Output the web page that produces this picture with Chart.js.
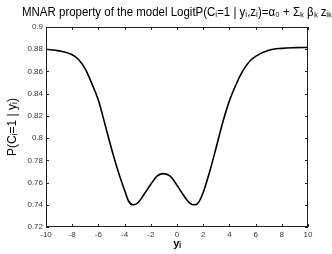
<!DOCTYPE html>
<html>
<head>
<meta charset="utf-8">
<script src="https://cdn.jsdelivr.net/npm/chart.js@4"></script>
<style>
  html, body { margin: 0; padding: 0; background: #fff; }
  #wrap { width: 332px; height: 254px; position: relative; }
</style>
</head>
<body>
<div id="wrap"><canvas id="chart"></canvas></div>
<script>
// values
const yValues = [-10, -9, -8, -7.5, -7, -6.5, -6, -5.5, -5, -4.5, -4, -3.7, -3.35, -3, -2.5, -2, -1.5, -1.03,
                 -0.5, 0, 0.5, 1, 1.3, 1.6, 2, 2.5, 3, 3.5, 4, 4.5, 5, 5.5, 6, 7, 8, 9, 10];
const probValues = [0.8800, 0.8785, 0.8750, 0.8705, 0.8620, 0.8490, 0.8340, 0.8125, 0.7905, 0.7705, 0.7530, 0.7434, 0.7400, 0.7416, 0.7497, 0.7585, 0.7660, 0.7680,
                    0.7655, 0.7575, 0.7485, 0.7413, 0.7400, 0.7414, 0.7510, 0.7700, 0.7920, 0.8145, 0.8335, 0.8480, 0.8600, 0.8685, 0.8735, 0.8790, 0.8808, 0.8814, 0.8816];
const xTicks = [-10, -8, -6, -4, -2, 0, 2, 4, 6, 8, 10];
const yTicks = [0.72, 0.74, 0.76, 0.78, 0.8, 0.82, 0.84, 0.86, 0.88, 0.9];

const FONT = "'Liberation Sans', Arial, Helvetica, sans-serif";

// MATLAB style frame: box on all sides, ticks pointing inwards
const boxTicks = {
    id: 'boxTicks',
    afterDatasetsDraw(chart) {
        const { ctx, chartArea: a, scales: { x, y } } = chart;
        ctx.save();
        ctx.strokeStyle = '#222';
        ctx.lineWidth = 1;
        ctx.beginPath();
        x.ticks.forEach(t => {
            const px = Math.round(x.getPixelForValue(t.value)) + 0.5;
            ctx.moveTo(px, a.bottom); ctx.lineTo(px, a.bottom - 3);
            ctx.moveTo(px, a.top); ctx.lineTo(px, a.top + 3);
        });
        y.ticks.forEach(t => {
            const py = Math.round(y.getPixelForValue(t.value)) + 0.5;
            ctx.moveTo(a.left, py); ctx.lineTo(a.left + 3, py);
            ctx.moveTo(a.right, py); ctx.lineTo(a.right - 3, py);
        });
        ctx.stroke();
        ctx.strokeRect(Math.round(a.left) + 0.5, Math.round(a.top) + 0.5,
                       Math.round(a.right - a.left) - 1, Math.round(a.bottom - a.top) - 1);
        ctx.restore();
    }
};

new Chart(document.getElementById('chart'), {
    type: 'scatter',
    data: {
        datasets: [{
            data: yValues.map((v, i) => ({ x: v, y: probValues[i] })),
            showLine: true,
            borderColor: '#000',
            borderWidth: 1.6,
            pointRadius: 0,
            cubicInterpolationMode: 'monotone'
        }]
    },
    options: {
        responsive: true,
        maintainAspectRatio: false,
        animation: false,
        // left padding shifts the title centre over the plot, like the original
        layout: { padding: { left: 22, right: 0 } },
        plugins: {
            legend: { display: false },
            tooltip: { enabled: false },
            title: {
                display: true,
                text: 'MNAR property of the model LogitP(Cᵢ=1 | yᵢ,zᵢ)=α₀ + Σₖ βₖ zᵢₖ',
                color: '#000',
                font: { family: FONT, size: 12, weight: 'normal' },
                padding: { top: 5, bottom: 7.6 }
            }
        },
        scales: {
            x: {
                type: 'linear',
                min: -10, max: 10,
                afterFit: s => { s.height = 27; },
                afterBuildTicks: s => { s.ticks = xTicks.map(v => ({ value: v })); },
                grid: { display: false, drawTicks: false },
                border: { display: false },
                ticks: { color: '#333', padding: 3, font: { family: FONT, size: 8 }, maxRotation: 0 },
                title: { display: true, text: 'yᵢ', color: '#000', padding: { top: 0, bottom: 3 },
                         font: { family: FONT, size: 11, weight: 'bold' } }
            },
            y: {
                min: 0.72, max: 0.9,
                afterFit: s => { s.width = 24; },
                afterBuildTicks: s => { s.ticks = yTicks.map(v => ({ value: v })); },
                grid: { display: false, drawTicks: false },
                border: { display: false },
                ticks: { color: '#333', padding: 3, font: { family: FONT, size: 8 },
                         callback: v => String(+v.toFixed(2)) },
                title: { display: true, text: 'P(Cᵢ=1 | yᵢ)', color: '#000', padding: { top: -16.2, bottom: 0 },
                         font: { family: FONT, size: 12 } }
            },
            right: {
                position: 'right',
                display: true,
                afterFit: s => { s.width = 24; },
                grid: { display: false, drawTicks: false },
                border: { display: false },
                ticks: { display: false }
            }
        }
    },
    plugins: [boxTicks]
});
</script>
</body>
</html>
